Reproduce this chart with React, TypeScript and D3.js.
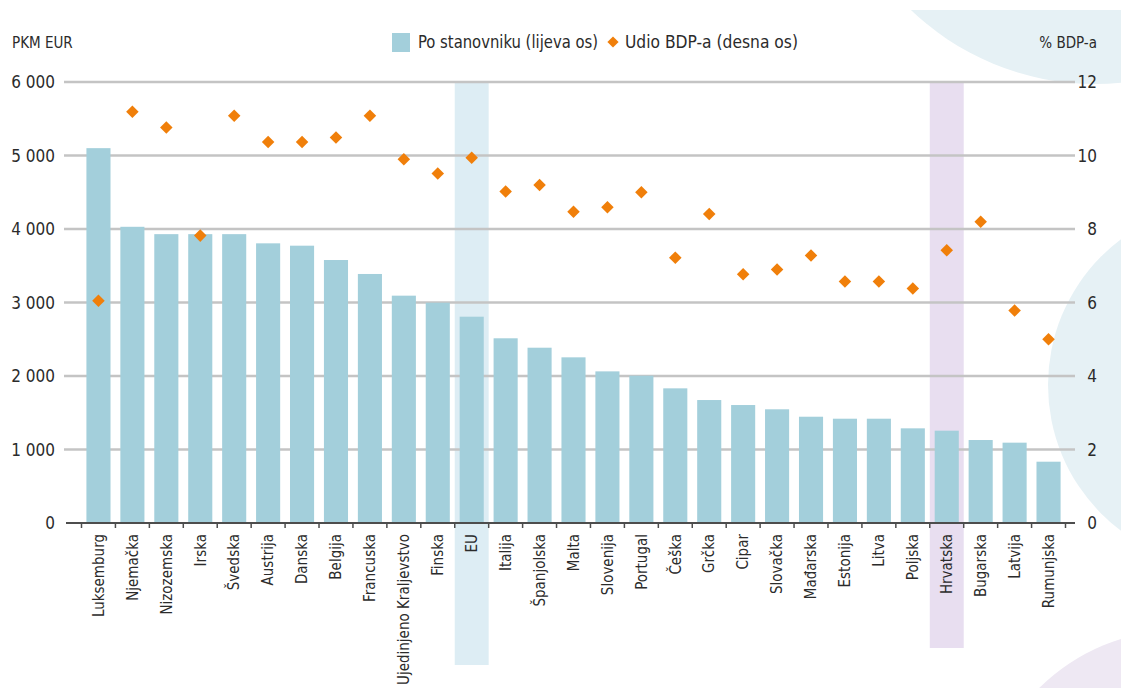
import React from 'react';
import * as d3 from 'd3';

const categories = [
  'Luksemburg', 'Njemačka', 'Nizozemska', 'Irska', 'Švedska', 'Austrija', 'Danska',
  'Belgija', 'Francuska', 'Ujedinjeno Kraljevstvo', 'Finska', 'EU', 'Italija',
  'Španjolska', 'Malta', 'Slovenija', 'Portugal', 'Češka', 'Grčka', 'Cipar',
  'Slovačka', 'Mađarska', 'Estonija', 'Litva', 'Poljska', 'Hrvatska', 'Bugarska',
  'Latvija', 'Rumunjska',
];

// PKM EUR po stanovniku (lijeva os)
const perCapita = [
  5100, 4030, 3930, 3930, 3930, 3805, 3773, 3578, 3388, 3093, 2997, 2807, 2513,
  2385, 2254, 2063, 2004, 1832, 1673, 1605, 1547, 1446, 1419, 1419, 1288, 1256,
  1129, 1093, 834,
];

// udio BDP-a u % (desna os)
const gdpShare = [
  6.05, 11.19, 10.76, 7.82, 11.08, 10.37, 10.37, 10.49, 11.08, 9.9, 9.51, 9.94, 9.02,
  9.2, 8.47, 8.59, 9.0, 7.22, 8.41, 6.77, 6.9, 7.28, 6.57, 6.57, 6.38, 7.42,
  8.2, 5.78, 5.0,
];

const leftTicks = [0, 1000, 2000, 3000, 4000, 5000, 6000];
const rightTicks = [0, 2, 4, 6, 8, 10, 12];
const highlights = [
  { name: 'EU', fill: '#ddedf4', bottom: 665 },
  { name: 'Hrvatska', fill: '#e8def0', bottom: 648 },
];

const W = 1121;
const H = 688;
const FONT = '"Liberation Sans Narrow", "DejaVu Sans Condensed", "Arial Narrow", sans-serif';
const TEXT = '#2b2b2b';

const x = d3.scaleBand<string>().domain(categories).range([81.5, 1065.5]).padding(0);
const yL = d3.scaleLinear().domain([0, 6000]).range([523, 82]);
const yR = d3.scaleLinear().domain([0, 12]).range([523, 82]);
const fmt = (v: number) => d3.format(',')(v).replace(',', ' ');
const diamond = d3.symbol().type(d3.symbolDiamond2).size(100)();
const legendDiamond = d3.symbol().type(d3.symbolDiamond2).size(80)();

export default function App() {
  const bw = x.bandwidth();
  const barW = bw * 0.71;
  return (
    <div style={{ position: 'absolute', left: 0, top: 0 }}>
      <svg width={W} height={H} style={{ display: 'block', background: '#fff' }}>
        <defs>
          <clipPath id="pageClip">
            <rect x={0} y={10} width={W} height={H - 10} />
          </clipPath>
        </defs>
        {/* decorative background circles */}
        <g clipPath="url(#pageClip)">
          <circle cx={1095} cy={-182} r={266} fill="#e6f1f5" />
          <circle cx={1230} cy={385} r={182} fill="#e6f1f5" />
          <circle cx={1180} cy={830} r={200} fill="#eee8f3" />
        </g>

        {/* highlight columns */}
        {highlights.map((h) => (
          <rect
            key={h.name}
            x={x(h.name)}
            y={yL(6000)}
            width={bw}
            height={h.bottom - yL(6000)}
            fill={h.fill}
          />
        ))}

        {/* gridlines */}
        {leftTicks.filter((t) => t > 0).map((t) => (
          <line key={t} x1={64} x2={1075} y1={yL(t)} y2={yL(t)} stroke="#c4c4c4" strokeWidth={2.5} />
        ))}

        {/* bars */}
        {categories.map((c, i) => (
          <rect
            key={c}
            x={(x(c) as number) + (bw - barW) / 2}
            y={yL(perCapita[i])}
            width={barW}
            height={yL(0) - yL(perCapita[i])}
            fill="#a3cfdb"
          />
        ))}

        {/* x axis */}
        <line x1={66} x2={1075} y1={yL(0)} y2={yL(0)} stroke="#4d4d4d" strokeWidth={2} />
        {categories.map((c) => (
          <line key={c} x1={x(c)} x2={x(c)} y1={yL(0)} y2={yL(0) + 5} stroke="#4d4d4d" strokeWidth={1.5} />
        ))}
        <line x1={x.range()[1]} x2={x.range()[1]} y1={yL(0)} y2={yL(0) + 5} stroke="#4d4d4d" strokeWidth={1.5} />
        {categories.map((c) => {
          const cx = (x(c) as number) + bw / 2;
          return (
            <text
              key={c}
              transform={`translate(${cx},${534}) rotate(-90)`}
              textAnchor="end"
              dy="0.35em"
              fontFamily={FONT}
              fontSize={15}
              fill={TEXT}
            >
              {c}
            </text>
          );
        })}

        {/* diamonds */}
        {categories.map((c, i) => (
          <path
            key={c}
            d={diamond}
            transform={`translate(${(x(c) as number) + bw / 2},${yR(gdpShare[i])})`}
            fill="#f07f0a"
          />
        ))}

        {/* left axis labels */}
        {leftTicks.map((t) => (
          <text key={t} x={55} y={yL(t)} dy="0.36em" textAnchor="end" fontFamily={FONT} fontSize={17} fill={TEXT}>
            {fmt(t)}
          </text>
        ))}
        {/* right axis labels */}
        {rightTicks.map((t) => (
          <text key={t} x={1097} y={yR(t)} dy="0.36em" textAnchor="end" fontFamily={FONT} fontSize={17} fill={TEXT}>
            {t}
          </text>
        ))}

        {/* axis titles */}
        <text x={12} y={48} fontFamily={FONT} fontSize={15} fill={TEXT}>PKM EUR</text>
        <text x={1097} y={48} textAnchor="end" fontFamily={FONT} fontSize={15} fill={TEXT}>% BDP-a</text>

        {/* legend */}
        <rect x={392} y={33} width={18} height={19} fill="#a3cfdb" />
        <text x={418} y={48} fontFamily={FONT} fontSize={17} fill={TEXT} textLength={180} lengthAdjust="spacingAndGlyphs">
          Po stanovniku (lijeva os)
        </text>
        <path d={legendDiamond} transform="translate(613,42)" fill="#f07f0a" />
        <text x={625} y={48} fontFamily={FONT} fontSize={17} fill={TEXT} textLength={173} lengthAdjust="spacingAndGlyphs">
          Udio BDP-a (desna os)
        </text>
      </svg>
    </div>
  );
}
